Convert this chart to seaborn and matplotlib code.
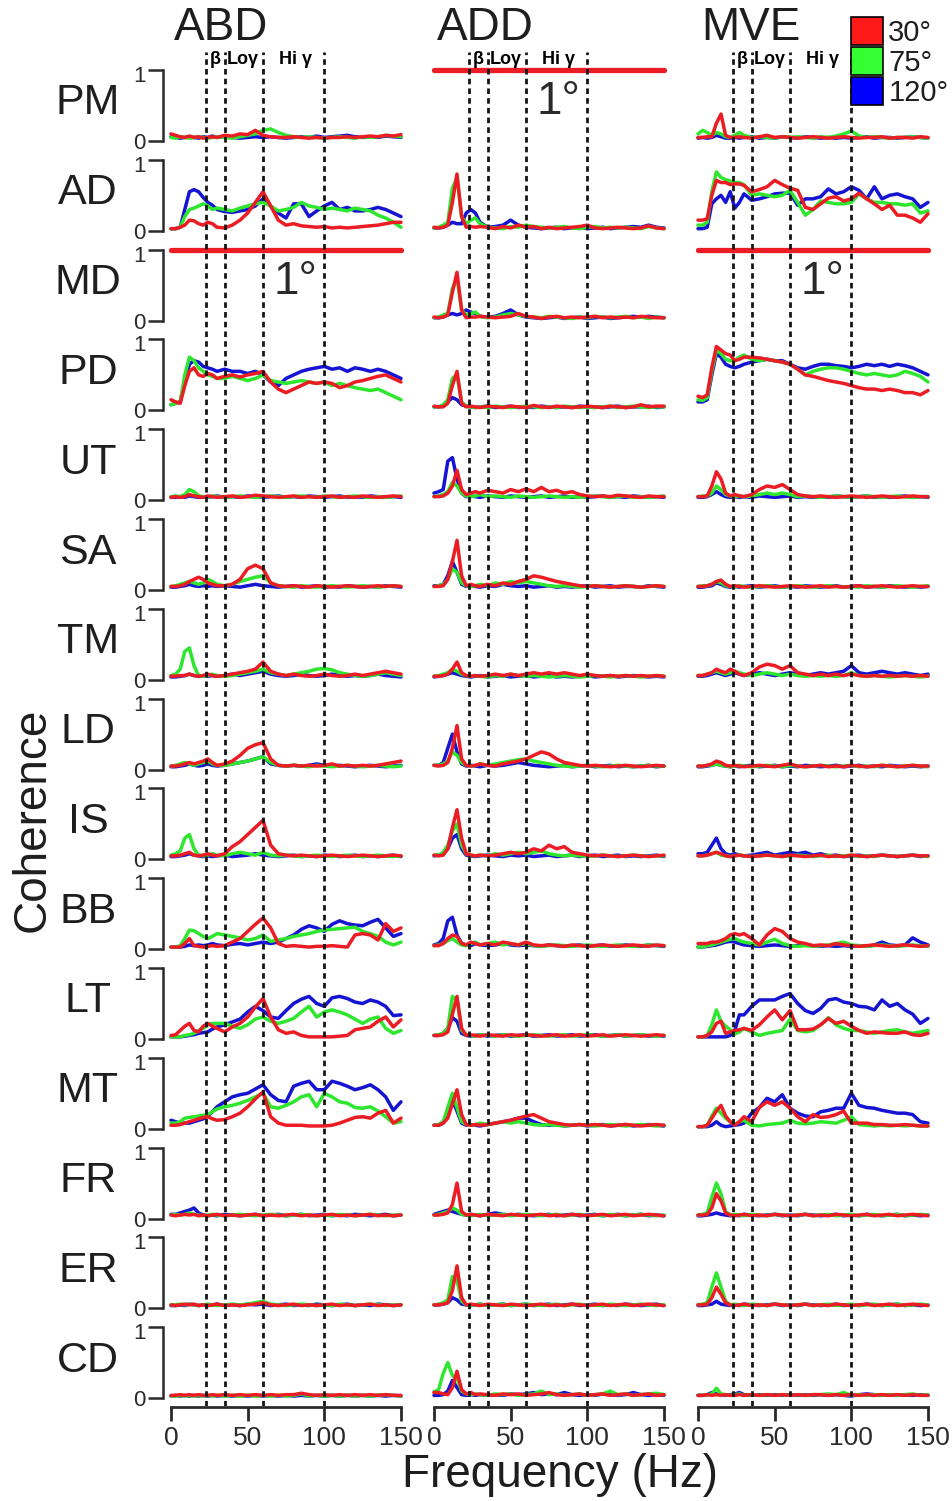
import matplotlib
matplotlib.use("Agg")
import matplotlib.pyplot as plt
import matplotlib.transforms as mtransforms
import numpy as np
import pandas as pd
import seaborn as sns
from matplotlib.patches import Patch

# ---------------- data (coherence values in hundredths) ----------------
FREQ = [0, 3, 6, 9, 12, 15, 18, 21, 24, 27, 30, 35, 40, 45, 50, 55, 60, 65, 70, 75,
        80, 85, 90, 95, 100, 105, 110, 115, 120, 125, 130, 135, 140, 145, 150]
MUSCLES = ["PM", "AD", "MD", "PD", "UT", "SA", "TM", "LD", "IS", "BB", "LT", "MT", "FR", "ER", "CD"]
MOVEMENTS = ["ABD", "ADD", "MVE"]
ANGLES = ["30°", "75°", "120°"]
PRIMARY = {"ABD": "MD", "ADD": "PM", "MVE": "MD"}
BAND_EDGES = [23, 35, 60, 100]
BAND_NAMES = ["β", "Loγ", "Hi γ"]
BAND_NAME_HZ = [29, 47, 81]
X_TICKS = [0, 50, 100, 150]

ABD_30 = {
    "PM": [10,8,6,5,7,5,6,4,5,6,5, 8,7,10,9,15,8,6,5,5,6,5,4,5,4,5,5,6,5,6,7,6,8,7,9],
    "AD": [3,3,5,8,15,14,10,8,12,10,5, 4,8,15,25,40,55,35,15,8,10,7,6,5,6,4,5,4,5,6,7,8,10,12,12],
    "PD": [15,12,10,35,55,60,50,48,52,50,45, 48,50,47,50,52,55,40,30,25,30,35,40,38,40,38,32,35,40,42,45,48,50,45,40],
    "UT": [4,5,4,5,8,6,5,4,6,5,4, 5,6,4,5,7,6,5,4,5,6,4,5,4,5,6,4,5,4,6,5,4,5,6,5],
    "SA": [5,5,6,8,12,15,18,15,10,8,6, 6,8,15,30,35,30,10,6,5,6,5,4,6,5,4,5,6,5,4,5,6,5,6,5],
    "TM": [5,5,6,6,8,6,5,6,8,6,5, 6,8,10,12,15,25,12,8,6,8,6,5,6,8,6,5,6,8,6,8,10,12,10,8],
    "LD": [5,5,6,8,10,8,10,12,15,10,6, 8,12,20,30,35,38,15,6,5,6,5,6,5,6,8,5,6,5,6,5,6,8,10,12],
    "IS": [5,5,6,8,10,6,5,6,8,6,5, 8,18,25,35,45,55,20,8,6,5,6,5,4,5,6,5,4,5,6,5,4,5,6,5],
    "BB": [3,3,3,8,15,5,4,3,4,5,4, 5,10,15,25,35,44,30,8,4,5,4,3,4,4,5,4,3,20,22,20,13,36,25,30],
    "LT": [5,6,12,18,22,12,10,18,22,18,15, 10,17,22,31,45,57,31,13,8,10,5,3,3,3,3,4,5,13,15,17,25,31,17,27],
    "MT": [5,5,6,8,10,12,14,16,17,14,12, 13,17,22,31,42,52,17,8,5,5,5,4,4,4,5,8,12,16,17,15,22,26,8,15],
    "FR": [5,4,5,6,5,6,4,5,4,5,6, 4,5,4,5,6,4,5,4,5,6,4,5,4,5,6,4,5,4,5,6,4,5,4,5],
    "ER": [5,4,5,6,5,6,4,5,4,5,6, 4,5,4,5,6,8,5,4,5,6,4,5,4,5,6,4,5,4,5,6,4,5,4,5],
    "CD": [4,4,5,4,5,4,5,4,4,5,4, 5,4,5,4,5,4,5,4,5,5,7,5,4,5,4,5,4,5,4,5,4,5,4,4],
}
ABD_75 = {
    "PM": [5,4,6,5,4,5,6,5,4,5,6, 5,4,6,8,10,15,17,12,8,6,5,6,5,4,5,6,5,4,6,5,6,8,7,6],
    "AD": [3,3,5,20,30,32,35,38,35,30,32, 30,28,32,35,38,40,35,28,30,33,40,35,33,30,32,30,28,32,30,28,22,18,12,5],
    "PD": [8,10,12,50,75,70,60,55,50,48,45, 45,48,45,42,45,50,42,40,38,40,42,40,38,40,35,38,35,32,30,28,30,25,20,15],
    "UT": [5,6,5,8,15,12,6,5,4,6,5, 4,5,6,5,4,5,6,5,4,5,6,5,4,6,5,4,5,6,5,4,5,4,5,6],
    "SA": [5,6,8,10,12,10,8,10,15,12,8, 6,8,12,15,18,20,10,6,5,4,6,5,4,5,6,5,4,5,6,5,4,5,6,5],
    "TM": [6,8,15,40,45,20,6,5,6,8,6, 5,6,8,10,12,15,10,8,6,8,10,12,15,16,14,10,8,6,5,6,8,10,8,6],
    "LD": [5,6,8,10,8,6,8,10,12,8,6, 6,8,10,12,15,18,10,6,5,6,5,4,6,5,4,5,6,5,4,5,6,5,4,5],
    "IS": [6,8,12,30,35,15,6,5,6,8,6, 5,8,10,8,6,10,6,5,6,5,4,5,6,5,4,5,6,5,4,5,6,5,4,5],
    "BB": [3,3,5,15,27,26,22,18,15,18,22, 20,18,16,13,15,20,11,13,15,18,20,22,25,27,28,29,30,31,25,22,18,10,6,10],
    "LT": [3,3,3,5,6,8,12,15,20,22,22, 22,18,15,20,28,31,25,22,25,29,38,46,31,38,41,38,34,28,22,28,31,15,8,12],
    "MT": [8,8,10,15,16,17,18,19,20,24,28, 31,33,36,40,45,50,31,29,33,38,45,48,31,50,45,38,36,30,29,31,25,17,8,10],
    "FR": [5,6,5,6,8,6,5,4,5,6,5, 4,5,6,5,4,5,6,5,4,5,6,5,4,5,4,6,5,4,5,6,5,4,5,5],
    "ER": [5,5,6,5,6,5,4,5,6,5,4, 5,6,5,6,8,10,6,5,4,5,6,5,4,5,4,6,5,4,5,6,5,4,5,5],
    "CD": [3,3,4,3,4,3,4,3,4,3,4, 3,4,3,4,3,4,3,4,3,4,6,3,4,3,4,3,4,3,4,3,4,5,4,3],
}
ABD_120 = {
    "PM": [6,5,4,5,6,5,4,6,5,7,5, 6,5,4,5,6,5,6,5,4,5,6,5,7,5,6,7,8,6,5,6,5,7,6,5],
    "AD": [3,3,5,30,55,58,55,47,40,36,30, 27,26,28,30,35,45,35,25,18,38,38,20,28,35,40,30,33,28,28,30,33,30,25,20],
    "PD": [8,10,12,40,65,70,68,62,60,58,55, 58,55,55,52,55,50,40,35,45,50,55,58,60,62,58,60,55,60,58,55,58,55,50,45],
    "UT": [4,4,5,4,6,5,4,5,4,5,6, 4,5,4,6,5,4,5,6,4,5,4,6,5,4,5,6,4,5,4,6,5,4,5,4],
    "SA": [4,4,5,6,8,6,5,6,5,6,5, 6,5,4,6,8,6,5,4,5,6,4,5,6,4,5,4,6,5,4,5,4,6,5,4],
    "TM": [4,4,5,6,8,6,5,6,5,6,5, 6,8,6,8,10,12,8,6,5,6,8,6,5,6,8,6,5,6,5,6,8,6,5,4],
    "LD": [4,4,5,6,8,6,5,6,8,6,5, 6,8,10,12,15,18,8,6,5,6,5,6,8,6,5,6,5,4,5,6,5,4,5,6],
    "IS": [4,4,5,6,8,6,5,4,5,4,5, 6,4,5,6,8,6,5,4,5,6,4,5,4,6,5,4,5,6,4,5,4,5,6,4],
    "BB": [3,3,3,4,6,5,6,5,6,8,6, 5,7,8,6,8,10,8,10,15,20,28,33,30,25,35,40,36,34,33,38,42,30,18,22],
    "LT": [3,3,3,4,5,6,8,9,10,14,17, 20,24,28,38,46,40,31,29,40,50,56,60,50,46,58,60,57,52,50,55,52,46,33,34],
    "MT": [12,10,8,8,8,10,12,14,18,24,31, 38,45,48,50,56,62,48,40,38,60,64,67,55,55,67,64,60,55,58,62,55,45,26,38],
    "FR": [6,6,8,10,12,15,8,5,4,5,4, 6,5,4,5,6,4,5,6,4,5,6,4,5,6,4,5,4,6,5,4,5,6,4,5],
    "ER": [4,4,5,4,6,5,4,5,4,5,6, 4,5,4,6,5,6,4,5,6,4,5,4,6,5,4,5,6,4,5,4,6,5,4,5],
    "CD": [3,4,3,4,3,4,3,4,3,4,3, 4,3,4,3,4,3,4,3,4,3,4,3,4,3,4,3,4,3,4,3,4,3,4,3],
}
ADD_30 = {
    "AD": [5,4,5,8,40,80,20,5,6,5,6, 5,3,6,4,8,5,6,3,5,3,4,5,6,8,4,3,4,5,4,3,4,7,4,3],
    "MD": [5,4,5,8,40,68,15,4,5,5,6, 5,4,5,6,10,6,5,3,5,6,4,5,4,5,6,4,5,4,5,4,6,5,4,4],
    "PD": [6,5,5,10,35,55,10,5,6,5,4, 6,5,4,6,5,4,7,5,4,6,5,4,5,6,5,4,6,5,4,5,8,5,6,6],
    "UT": [5,5,6,10,20,42,15,8,10,12,10, 14,12,10,15,12,16,12,18,12,14,10,12,8,6,5,6,5,7,6,5,4,6,5,5],
    "SA": [5,5,6,15,40,70,20,6,8,6,5, 8,6,10,8,12,15,20,18,15,12,10,8,6,5,6,5,4,5,6,5,4,5,6,5],
    "TM": [5,5,6,8,15,25,10,6,5,6,5, 6,8,6,8,6,8,10,8,10,8,10,8,6,8,6,5,6,5,6,5,6,5,6,5],
    "LD": [6,5,6,10,30,62,15,6,5,6,8, 6,5,8,10,12,15,20,25,22,15,10,8,6,5,6,5,4,5,6,5,4,5,6,5],
    "IS": [6,5,6,15,45,70,30,8,6,5,6, 5,6,8,10,8,10,15,12,20,15,18,10,8,6,5,6,5,4,5,6,5,4,5,6],
    "BB": [5,5,8,15,20,18,8,6,10,8,6, 8,6,10,8,6,10,6,5,6,5,4,6,5,4,5,6,5,4,5,6,5,4,6,5],
    "LT": [5,5,6,10,35,60,15,5,6,5,4, 6,5,4,6,5,6,5,4,5,6,4,5,6,4,5,6,4,5,6,5,4,5,6,5],
    "MT": [5,5,8,15,35,55,20,6,5,6,5, 6,8,10,12,15,18,20,15,10,8,6,5,6,5,6,5,4,5,6,5,4,5,6,5],
    "FR": [5,5,6,8,20,50,10,5,6,5,4, 6,5,4,6,5,4,5,6,4,5,4,6,5,4,5,6,4,5,6,4,5,6,5,4],
    "ER": [5,5,6,8,25,60,15,5,6,5,4, 6,5,4,6,5,4,5,6,4,5,4,6,5,4,5,6,4,5,6,4,5,6,5,4],
    "CD": [8,8,6,5,15,38,12,6,8,5,6, 5,4,6,5,6,4,5,6,8,5,4,5,6,4,5,6,4,5,6,4,5,6,4,5],
}
ADD_75 = {
    "AD": [4,5,8,12,60,75,20,10,15,18,10, 5,4,3,6,5,8,6,5,4,5,6,4,3,5,6,4,5,4,5,4,3,6,4,3],
    "MD": [4,5,8,10,45,60,15,8,10,12,6, 4,5,8,10,8,6,5,4,6,5,4,3,5,4,6,5,4,5,6,4,5,3,5,4],
    "PD": [5,5,8,15,45,50,12,6,5,4,5, 4,6,5,4,5,6,5,4,5,4,6,5,4,5,4,5,6,4,5,6,5,4,5,5],
    "UT": [5,6,8,12,25,20,10,6,5,6,8, 5,6,5,4,6,5,4,5,6,5,4,5,4,5,6,5,4,5,6,4,5,4,5,6],
    "SA": [5,6,8,15,30,25,10,6,5,6,8, 6,10,8,12,10,12,10,8,6,5,6,5,4,5,6,5,4,5,6,5,4,5,6,5],
    "TM": [5,6,8,10,15,12,8,6,5,6,5, 4,6,5,8,6,5,6,5,4,5,6,5,4,5,6,5,4,5,6,5,4,5,6,5],
    "LD": [6,6,8,12,25,20,10,6,5,6,8, 6,8,10,12,14,15,12,10,8,6,5,4,5,6,5,4,5,6,5,4,5,6,5,5],
    "IS": [6,6,10,20,40,50,20,8,6,5,6, 5,8,6,8,10,8,10,12,8,6,5,6,5,4,5,6,5,4,5,6,5,4,5,5],
    "BB": [5,6,8,12,15,10,6,5,8,10,6, 8,10,6,8,6,8,5,4,5,6,5,4,5,6,5,4,5,6,5,4,5,6,5,5],
    "LT": [5,6,8,15,60,55,12,6,5,4,6, 5,4,6,5,4,5,6,5,4,5,6,4,5,6,5,4,5,6,4,5,6,5,4,5],
    "MT": [5,6,10,30,50,30,10,6,5,6,8, 6,8,10,8,10,8,6,5,6,5,4,5,6,5,4,5,6,5,4,5,6,5,4,5],
    "FR": [5,6,8,10,15,12,6,5,4,5,6, 4,5,6,4,5,6,5,4,5,6,4,5,6,4,5,4,6,5,4,5,6,5,4,5],
    "ER": [5,6,8,12,45,40,10,5,4,5,6, 4,5,6,4,5,6,5,4,5,6,4,5,6,4,5,4,6,5,4,5,6,5,4,5],
    "CD": [9,12,35,50,32,28,10,6,5,6,5, 4,6,5,6,4,5,6,10,5,6,4,5,6,4,5,6,10,5,6,4,5,6,7,5],
}
ADD_120 = {
    "AD": [4,4,5,8,12,10,10,25,30,25,12, 5,6,8,15,8,5,4,3,4,5,3,4,5,3,4,5,3,4,5,6,5,8,5,4],
    "MD": [4,4,5,8,10,8,10,15,12,10,6, 5,6,10,15,8,5,4,3,4,5,3,4,5,3,4,5,3,4,5,6,5,6,5,4],
    "PD": [5,5,6,12,18,15,8,6,5,4,5, 6,4,5,6,4,5,4,6,5,4,5,4,6,5,5,4,5,6,4,5,5,6,4,5],
    "UT": [10,12,15,55,60,30,10,5,6,5,4, 6,5,4,6,5,4,5,6,4,5,6,4,5,4,5,6,4,5,4,6,5,4,5,4],
    "SA": [6,6,8,20,40,25,8,5,6,5,4, 6,5,8,6,5,6,4,5,6,4,5,4,5,6,4,5,6,4,5,5,4,6,5,4],
    "TM": [4,5,6,8,10,8,6,5,4,5,6, 4,5,6,4,5,6,4,5,6,4,5,4,5,6,4,5,6,4,5,6,5,4,5,4],
    "LD": [6,6,10,30,50,25,8,5,6,5,4, 6,5,6,8,10,8,6,5,4,5,6,4,5,6,4,5,6,4,5,4,5,6,4,5],
    "IS": [5,6,8,15,30,35,15,6,5,4,5, 6,5,4,6,5,6,4,5,6,4,5,6,4,5,6,4,5,6,4,5,4,5,6,4],
    "BB": [6,8,15,40,45,20,8,6,5,8,6, 5,6,8,6,5,6,5,4,6,5,4,5,6,4,5,6,4,5,6,5,4,6,5,4],
    "LT": [5,5,8,15,30,25,8,5,4,5,6, 4,5,6,4,5,6,4,5,6,4,5,6,4,5,6,4,5,6,4,5,6,4,5,4],
    "MT": [5,5,8,25,40,25,8,5,6,5,4, 6,8,10,12,15,15,10,6,5,6,4,5,6,4,5,6,4,5,6,4,5,6,5,4],
    "FR": [6,8,10,12,10,8,6,5,6,5,4, 6,8,6,5,6,5,4,5,6,4,5,6,4,5,6,4,5,6,4,5,6,4,5,4],
    "ER": [5,5,6,8,15,12,6,5,4,5,6, 4,5,6,4,5,6,4,5,6,4,5,6,4,5,6,4,5,4,6,5,4,5,6,4],
    "CD": [4,4,5,10,25,15,5,4,5,4,5, 4,5,4,6,5,6,8,5,6,5,8,5,4,5,4,6,5,4,5,8,5,4,5,4],
}
MVE_30 = {
    "PM": [5,5,6,6,25,38,8,5,5,6,5, 4,6,8,5,6,5,4,5,6,5,4,5,6,5,4,5,5,6,4,5,5,4,6,5],
    "AD": [15,15,17,50,71,68,68,65,66,66,64, 55,58,62,71,65,60,57,33,30,38,46,48,42,45,53,45,38,30,36,22,22,18,12,24],
    "PD": [20,18,22,60,90,85,80,78,70,72,75, 75,74,72,70,68,65,58,50,48,45,42,40,38,35,32,30,30,28,30,28,25,25,22,28],
    "UT": [5,5,6,20,40,30,10,6,8,6,5, 8,15,20,18,22,15,8,6,5,6,5,4,5,6,5,4,5,6,5,4,5,6,5,5],
    "SA": [5,5,6,8,12,14,8,5,6,5,4, 5,6,5,4,5,6,5,4,5,6,4,5,4,5,6,4,5,6,5,4,5,6,5,5],
    "TM": [6,6,8,10,15,12,10,15,12,8,6, 10,18,22,20,15,20,10,8,6,8,6,8,6,8,6,5,6,5,6,5,6,5,6,5],
    "LD": [5,5,6,8,12,10,6,5,6,5,4, 5,6,5,4,6,8,5,4,5,6,4,5,4,6,5,4,5,6,5,4,5,6,5,5],
    "IS": [5,5,6,8,10,8,5,4,5,6,5, 4,5,6,5,4,6,5,4,5,6,4,5,4,6,5,4,5,6,5,4,5,6,5,5],
    "BB": [8,8,8,10,10,12,15,20,22,20,22, 15,6,20,29,25,15,10,8,5,6,5,8,6,5,4,5,6,5,4,5,6,5,4,5],
    "LT": [3,3,5,10,22,25,8,10,12,13,15, 12,20,31,41,27,40,13,13,14,20,29,22,25,18,12,8,10,9,8,8,10,6,5,8],
    "MT": [3,3,5,15,25,33,18,10,5,10,17, 10,30,38,33,38,29,17,10,20,16,17,20,25,8,8,8,6,6,5,5,6,5,4,4],
    "FR": [5,5,6,15,35,25,8,5,4,5,6, 4,5,4,6,5,4,5,6,4,5,4,6,5,4,5,6,4,5,6,4,5,6,5,4],
    "ER": [5,5,6,15,30,20,8,5,4,5,6, 4,5,4,6,5,4,5,6,4,5,4,6,5,4,5,6,4,5,6,4,5,6,5,4],
    "CD": [4,4,5,4,5,4,5,4,4,5,4, 5,4,5,4,5,4,5,4,5,5,4,5,4,5,4,5,4,5,4,5,4,5,4,4],
}
MVE_75 = {
    "PM": [10,15,12,8,12,10,6,5,8,12,8, 5,6,5,4,6,5,6,5,4,6,5,7,10,14,7,5,6,5,4,5,5,6,5,4],
    "AD": [8,8,12,55,83,75,72,70,68,68,65, 50,52,50,48,50,57,40,22,30,42,40,38,38,40,52,45,40,40,38,38,36,38,25,28],
    "PD": [15,14,18,55,85,80,72,70,70,75,78, 72,70,72,70,68,65,58,50,55,58,60,60,58,55,52,50,52,50,48,50,55,52,48,40],
    "UT": [5,6,6,10,20,15,8,6,5,6,5, 6,8,10,8,10,8,5,6,5,4,5,6,5,4,5,6,5,4,5,6,5,4,5,5],
    "SA": [5,6,6,8,12,10,6,5,4,6,5, 4,5,6,5,4,5,6,5,4,5,6,5,4,5,4,6,5,4,5,6,5,4,5,6],
    "TM": [6,6,8,10,12,10,8,10,12,10,8, 6,8,10,8,6,8,6,5,6,5,6,5,6,10,6,5,6,5,4,5,6,5,4,5],
    "LD": [5,5,6,6,8,6,5,4,5,6,5, 4,5,6,5,4,6,5,4,5,6,5,4,5,6,4,5,4,6,5,4,5,6,5,4],
    "IS": [5,5,6,8,10,6,5,4,5,6,5, 4,5,6,5,4,5,6,5,4,5,6,4,5,6,4,5,4,6,5,4,5,6,5,4],
    "BB": [3,3,5,6,8,10,12,14,15,12,10, 8,6,10,14,8,5,4,5,4,5,6,8,10,6,5,4,5,6,5,4,5,6,5,4],
    "LT": [3,3,5,20,41,25,18,13,7,10,15, 10,5,8,10,12,28,12,10,12,20,30,20,15,12,12,10,8,10,12,13,10,8,10,12],
    "MT": [3,3,5,18,29,22,15,10,6,10,12, 5,4,6,7,8,12,8,7,8,10,9,8,12,17,6,5,4,5,4,5,4,5,4,4],
    "FR": [5,6,8,30,50,35,10,5,6,5,4, 6,5,4,6,5,4,5,6,4,5,6,4,5,6,4,5,6,4,5,6,4,5,6,5],
    "ER": [5,6,8,30,50,30,10,5,6,5,4, 6,5,4,6,5,4,5,6,4,5,6,4,5,6,4,5,6,4,5,6,4,5,6,5],
    "CD": [4,4,5,6,14,6,5,4,5,6,4, 5,4,5,4,5,4,5,4,5,5,6,5,8,4,5,4,5,4,5,4,5,6,4,5],
}
MVE_120 = {
    "PM": [4,5,4,5,8,6,4,4,5,4,5, 6,4,5,4,6,5,4,6,5,4,5,4,5,4,5,6,4,5,5,4,5,6,5,4],
    "AD": [3,3,5,38,45,50,40,55,32,40,52, 43,45,48,52,53,53,36,45,45,48,59,52,55,62,57,45,62,45,50,52,48,45,33,40],
    "PD": [12,12,15,50,80,75,65,62,60,62,65, 68,70,72,70,70,65,60,58,62,65,65,63,62,60,62,65,63,65,62,65,63,60,55,50],
    "UT": [4,4,5,8,12,8,5,4,5,4,5, 4,6,5,4,5,6,4,5,4,5,4,6,5,4,5,6,4,5,4,5,6,4,5,4],
    "SA": [4,4,5,6,10,8,5,4,5,4,5, 6,4,5,6,4,5,4,6,5,4,5,6,4,5,6,4,5,4,6,5,4,5,4,5],
    "TM": [5,5,6,8,10,8,6,8,10,8,6, 8,10,8,6,8,10,8,6,8,10,8,10,12,20,10,8,10,12,10,8,10,8,6,8],
    "LD": [4,4,5,6,8,6,5,4,5,4,5, 6,4,5,6,4,5,4,6,5,4,5,6,4,5,6,4,5,4,6,5,4,5,4,5],
    "IS": [8,8,10,20,30,15,8,6,8,6,5, 6,8,10,6,8,10,8,10,6,8,5,6,4,5,6,4,5,6,5,4,5,6,4,5],
    "BB": [3,3,4,5,6,8,10,11,10,8,6, 5,4,5,6,5,4,5,6,5,4,5,4,5,4,5,4,6,10,6,5,6,16,10,6],
    "LT": [3,3,3,3,3,3,3,5,12,34,34, 46,55,55,55,60,64,50,40,36,43,55,57,52,50,46,45,41,55,46,50,41,35,22,29],
    "MT": [3,3,3,5,10,5,3,4,5,6,8, 22,30,43,38,48,29,22,18,17,24,26,29,29,50,33,30,29,26,24,22,22,20,10,8],
    "FR": [4,4,5,6,8,6,5,4,5,4,6, 5,4,5,6,4,5,4,6,5,4,5,6,4,5,4,6,5,4,5,6,4,5,4,5],
    "ER": [4,4,5,6,10,6,5,4,5,4,6, 5,4,5,6,4,5,4,6,5,4,5,6,4,5,4,6,5,4,5,6,4,5,4,5],
    "CD": [4,4,5,8,6,5,4,5,6,8,5, 4,5,4,5,4,5,4,5,4,5,4,5,4,3,5,6,5,4,5,4,5,4,5,4],
}

SERIES = {
    "ABD": {"30°": ABD_30, "75°": ABD_75, "120°": ABD_120},
    "ADD": {"30°": ADD_30, "75°": ADD_75, "120°": ADD_120},
    "MVE": {"30°": MVE_30, "75°": MVE_75, "120°": MVE_120},
}

# ---------------- style ----------------
COLORS = {"30°": "#ec1c24", "75°": "#2ee62e", "120°": "#1414d2"}
LEGEND_COLORS = {"30°": "#ff1a1a", "75°": "#33ff33", "120°": "#0000ff"}
TXT = "#1e1e1e"

sns.set_style("ticks")
plt.rcParams["font.family"] = ["Liberation Sans", "DejaVu Sans"]

W, H = 952, 1501
fig = plt.figure(figsize=(W / 100, H / 100), dpi=100)

COL_X0 = [171, 434, 698]
COL_W = 230
ROW_TOP0 = 70
ROW_PITCH = 89.8
ROW_H = 71

up_shift = mtransforms.ScaledTranslation(0, 4 / 100, fig.dpi_scale_trans)

for c, mv in enumerate(MOVEMENTS):
    x0 = COL_X0[c]
    for r, m in enumerate(MUSCLES):
        top = ROW_TOP0 + ROW_PITCH * r
        ax = fig.add_axes([x0 / W, 1 - (top + ROW_H) / H, COL_W / W, ROW_H / H])
        ax.set_facecolor("none")
        if PRIMARY[mv] == m:
            ax.axhline(1.0, color=COLORS["30°"], lw=3.8, clip_on=False)
            ax.text(81, 0.55, "1°", fontsize=33, color="#2a2a2a", ha="center", va="center")
        else:
            frames = []
            for a in ANGLES:
                vals = SERIES[mv][a][m]
                assert len(vals) == len(FREQ), (mv, a, m, len(vals))
                frames.append(pd.DataFrame({"Frequency": FREQ,
                                            "Coherence": np.array(vals) / 100.0,
                                            "Angle": a}))
            df = pd.concat(frames, ignore_index=True)
            sns.lineplot(data=df, x="Frequency", y="Coherence", hue="Angle",
                         hue_order=["120°", "75°", "30°"], palette=COLORS,
                         legend=False, linewidth=2.5, errorbar=None, sort=False, ax=ax)
            for ln in ax.lines:
                ln.set_clip_on(False)
        ax.set_xlim(0, 150)
        ax.set_ylim(0, 1)
        ax.set_xlabel("")
        ax.set_ylabel("")
        for s in ["top", "right"]:
            ax.spines[s].set_visible(False)
        if c == 0:
            ax.spines["left"].set_position(("outward", 6))
            ax.spines["left"].set_bounds(0, 1)
            ax.spines["left"].set_linewidth(1.8)
            ax.spines["left"].set_color("#2a2a2a")
            ax.set_yticks([0, 1])
            ax.tick_params(axis="y", length=11, width=1.8, pad=1, labelsize=16,
                           colors="#2a2a2a", direction="out")
            one_label = ax.yaxis.get_major_ticks()[1].label1
            one_label.set_va("top")
            one_label.set_transform(one_label.get_transform() + up_shift)
        else:
            ax.spines["left"].set_visible(False)
            ax.set_yticks([])
        if r == len(MUSCLES) - 1:
            ax.spines["bottom"].set_position(("outward", 6))
            ax.spines["bottom"].set_bounds(0, 150)
            ax.spines["bottom"].set_linewidth(2.0)
            ax.spines["bottom"].set_color("#2a2a2a")
            ax.set_xticks(X_TICKS)
            ax.tick_params(axis="x", length=10, width=2.0, pad=4, labelsize=19,
                           colors="#2a2a2a", direction="out")
        else:
            ax.spines["bottom"].set_visible(False)
            ax.set_xticks([])

    # overlay with frequency-band boundaries spanning the column
    ov_top, ov_bot = 52, 1406
    ov = fig.add_axes([x0 / W, 1 - ov_bot / H, COL_W / W, (ov_bot - ov_top) / H], zorder=5)
    ov.set_facecolor("none")
    ov.set_xlim(0, 150)
    ov.set_ylim(0, 1)
    ov.axis("off")
    for f in BAND_EDGES:
        ov.axvline(f, color="#151515", lw=2.0, linestyle=(0, (2.0, 1.5)))
    for name, hz in zip(BAND_NAMES, BAND_NAME_HZ):
        ov.text(hz, (ov_bot - 60) / (ov_bot - ov_top), name, fontsize=13, fontweight="heavy",
                color="black", ha="center", va="center")

    fig.text((x0 + 3) / W, 1 - 28 / H, mv, fontsize=33, color=TXT, ha="left", va="center")

for r, m in enumerate(MUSCLES):
    yc = ROW_TOP0 + ROW_PITCH * r + ROW_H / 2 - 2
    fig.text(88 / W, 1 - yc / H, m, fontsize=31, color=TXT, ha="center", va="center")

fig.text(33 / W, 1 - 820 / H, "Coherence", fontsize=33, color=TXT, rotation=90,
         ha="center", va="center")
fig.text(560 / W, 1 - 1475 / H, "Frequency (Hz)", fontsize=33, color=TXT,
         ha="center", va="center")

handles = [Patch(facecolor=LEGEND_COLORS[a], edgecolor="black", linewidth=1.2, label=a)
           for a in ANGLES]
fig.legend(handles=handles, loc="upper left", bbox_to_anchor=(851 / W, 1 - 17 / H),
           fontsize=21, frameon=False, handlelength=1.08, handleheight=1.1,
           handletextpad=0.2, labelspacing=0.0, borderpad=0, borderaxespad=0,
           labelcolor=TXT)

fig.savefig("out.png", dpi=100, facecolor="white")
